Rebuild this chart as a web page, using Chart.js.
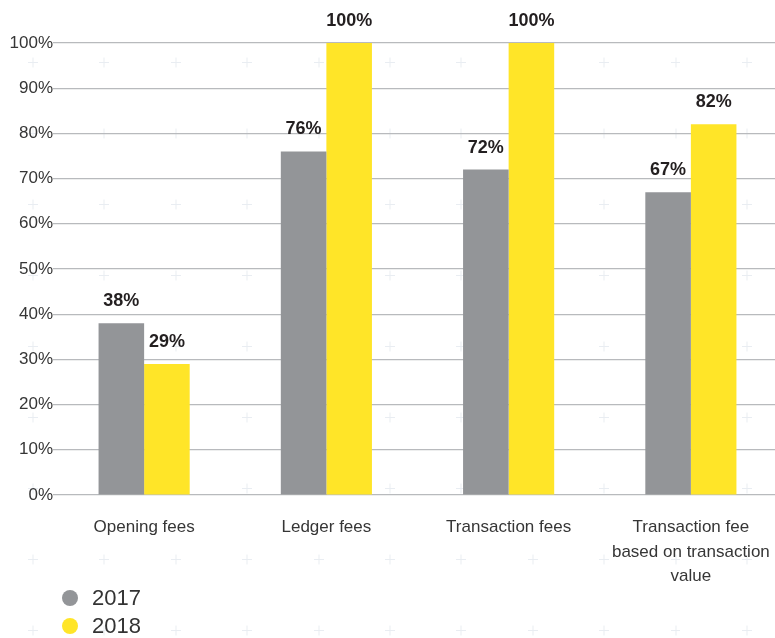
<!DOCTYPE html>
<html>
<head>
<meta charset="utf-8">
<title>Fees 2017 vs 2018</title>
<script src="https://cdn.jsdelivr.net/npm/chart.js@4/dist/chart.umd.min.js"></script>
<style>
    html, body {
        margin: 0;
        padding: 0;
        width: 775px;
        height: 638px;
        overflow: hidden;
        background-color: #ffffff;
        /* faint cross pattern behind the chart */
        background-image: url("data:image/svg+xml;utf8,<svg xmlns='http://www.w3.org/2000/svg' width='71.4' height='71'><path d='M35.7 30.5v10M30.7 35.5h10' stroke='%23e9edf2' stroke-width='1'/></svg>");
        background-size: 71.4px 71px;
        background-position: -2.7px 26.5px;
        font-family: "Liberation Sans", Arial, sans-serif;
    }
    #wrap {
        position: relative;
        width: 782px;
        height: 638px;
    }
    #legend {
        position: absolute;
        left: 62px;
        top: 584px;
        color: #333;
        font-size: 22px;
    }
    .legend-item {
        display: flex;
        align-items: center;
        height: 28px;
    }
    .legend-dot {
        width: 16px;
        height: 16px;
        border-radius: 50%;
        margin-right: 14px;
    }
</style>
</head>
<body>
<div id="wrap">
    <canvas id="feesChart" width="782" height="638"></canvas>
    <div id="legend"></div>
</div>
<script>
// Chart data
const categories = [
    'Opening fees',
    'Ledger fees',
    'Transaction fees',
    ['Transaction fee', 'based on transaction', 'value']
];
const years = ['2017', '2018'];
const values2017 = [38, 76, 72, 67];
const values2018 = [29, 100, 100, 82];
const yTicks = [0, 10, 20, 30, 40, 50, 60, 70, 80, 90, 100];

const GRAY = '#939598';
const YELLOW = '#ffe528';
const TEXT = '#363636';

// Percentage labels above each bar
const barLabels = {
    id: 'barLabels',
    afterDatasetsDraw(chart) {
        const ctx = chart.ctx;
        ctx.save();
        ctx.font = 'bold 18px "Liberation Sans", Arial, sans-serif';
        ctx.fillStyle = '#231f20';
        ctx.textAlign = 'center';
        ctx.textBaseline = 'alphabetic';
        chart.data.datasets.forEach((ds, i) => {
            chart.getDatasetMeta(i).data.forEach((bar, j) => {
                ctx.fillText(ds.data[j] + '%', bar.x, bar.y - 17);
            });
        });
        ctx.restore();
    }
};

function buildLegend(chart) {
    const box = document.getElementById('legend');
    box.innerHTML = chart.data.datasets.map(ds => `
        <div class="legend-item">
            <span class="legend-dot" style="background:${ds.backgroundColor}"></span>
            <span>${ds.label}</span>
        </div>
    `).join('');
}

const chart = new Chart(document.getElementById('feesChart'), {
    type: 'bar',
    data: {
        labels: categories,
        datasets: [
            { label: years[0], data: values2017, backgroundColor: GRAY },
            { label: years[1], data: values2018, backgroundColor: YELLOW }
        ]
    },
    options: {
        responsive: false,
        animation: false,
        layout: { padding: { top: 43, right: 0, bottom: 0, left: 0 } },
        categoryPercentage: 0.5,
        barPercentage: 1,
        plugins: {
            legend: { display: false },
            tooltip: { enabled: false }
        },
        scales: {
            x: {
                grid: { display: false },
                border: { display: false },
                ticks: {
                    color: TEXT,
                    padding: 12,
                    maxRotation: 0,
                    autoSkip: false,
                    font: { family: '"Liberation Sans", Arial, sans-serif', size: 17, lineHeight: 1.45 }
                },
                afterFit(scale) { scale.height = 143; }
            },
            y: {
                min: 0,
                max: 100,
                afterBuildTicks(scale) { scale.ticks = yTicks.map(v => ({ value: v })); },
                grid: { color: '#b8babd', lineWidth: 1.2, drawTicks: false },
                border: { display: false },
                ticks: {
                    color: TEXT,
                    padding: 0,
                    font: { family: '"Liberation Sans", Arial, sans-serif', size: 17 },
                    callback: v => v + '%'
                },
                afterFit(scale) { scale.width = 53; }
            }
        }
    },
    plugins: [barLabels]
});

buildLegend(chart);
</script>
</body>
</html>
